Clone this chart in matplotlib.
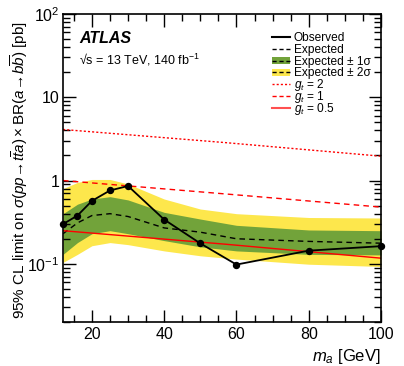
import numpy as np
import matplotlib
matplotlib.use("Agg")
from matplotlib import pyplot as plt
from matplotlib.patches import Rectangle
from matplotlib.lines import Line2D
from matplotlib.ticker import LogLocator, FixedLocator, MultipleLocator, NullFormatter

plt.rcParams['font.family'] = ['Liberation Sans', 'DejaVu Sans']
plt.rcParams['mathtext.fontset'] = 'custom'
plt.rcParams['mathtext.rm'] = 'Liberation Sans'
plt.rcParams['mathtext.it'] = 'Liberation Sans:italic'
plt.rcParams['mathtext.bf'] = 'Liberation Sans:bold'

# mass points [GeV]
mass = [12, 16, 20, 25, 30, 40, 50, 60, 80, 100]
observed = [0.30, 0.38, 0.57, 0.76, 0.86, 0.34, 0.176, 0.098, 0.144, 0.163]
expected = [0.23, 0.31, 0.38, 0.40, 0.37, 0.27, 0.24, 0.20, 0.186, 0.177]
exp_p1 = [0.40, 0.52, 0.60, 0.64, 0.585, 0.415, 0.345, 0.29, 0.255, 0.25]
exp_m1 = [0.13, 0.18, 0.23, 0.25, 0.23, 0.19, 0.16, 0.143, 0.13, 0.128]
exp_p2 = [0.80, 0.95, 1.03, 1.03, 0.91, 0.60, 0.455, 0.40, 0.36, 0.355]
exp_m2 = [0.104, 0.13, 0.165, 0.18, 0.17, 0.143, 0.125, 0.114, 0.099, 0.093]

# theory cross sections
theo_mass = [12, 57, 100]
theo_gt2 = [4.1, 2.85, 1.96]
theo_gt1 = [1.0, 0.69, 0.48]
theo_gt05 = [0.25, 0.172, 0.117]

leg_labels = ['Observed', 'Expected', 'Expected ± 1σ', 'Expected ± 2σ',
              '$g_t$ = 2', '$g_t$ = 1', '$g_t$ = 0.5']

fig = plt.figure(figsize=(4.04, 3.66), dpi=100)
ax = fig.add_axes([0.156, 0.120, 0.787, 0.842])

green = '#72a33a'
yellow = '#fde74c'
dash = (0, (3, 2))
ax.fill_between(mass, exp_m2, exp_p2, color=yellow, lw=0)
ax.fill_between(mass, exp_m1, exp_p1, color=green, lw=0)
ax.plot(mass, expected, color='black', ls=(0, (4, 3)), lw=1.0)
ax.plot(theo_mass, theo_gt2, color='red', ls=(0, (1.5, 1.5)), lw=1.0)
ax.plot(theo_mass, theo_gt1, color='red', ls=(0, (4, 3)), lw=1.0)
ax.plot(theo_mass, theo_gt05, color='red', ls='-', lw=1.0)
ax.plot(mass, observed, color='black', lw=1.3, marker='o', ms=4.3, clip_on=False, zorder=5)

ax.set_yscale('log')
ax.set_xlim(12, 100)
ax.set_ylim(0.02, 100)
ax.xaxis.set_major_locator(FixedLocator([20, 40, 60, 80, 100]))
ax.xaxis.set_minor_locator(MultipleLocator(5))
ax.yaxis.set_minor_locator(LogLocator(base=10, subs=np.arange(2, 10)))
ax.yaxis.set_minor_formatter(NullFormatter())
ax.set_yticks([0.1, 1, 10, 100])
ax.set_yticklabels(['$10^{-1}$', '1', '10', '$10^{2}$'])
ax.tick_params(which='both', direction='in', top=True, right=True, labelsize=11.5)
ax.tick_params(which='major', length=9, width=1)
ax.tick_params(which='minor', length=5, width=1)
ax.tick_params(axis='y', pad=2.5)
for s in ax.spines.values():
    s.set_linewidth(1.2)

ax.set_xlabel('$m_a$ [GeV]', fontsize=12, loc='right')
fig.text(0.048, 0.535,
         r'95% CL limit on $\sigma(pp\!\rightarrow\! t\overline{t}a)\times$BR($a\!\rightarrow\! b\overline{b}$) [pb]',
         rotation=90, fontsize=11, ha='center', va='center')

ax.text(0.05, 0.905, 'ATLAS', transform=ax.transAxes, fontsize=11.5,
        fontweight='bold', fontstyle='italic')
ax.text(0.05, 0.835, '√s = 13 TeV, 140 fb$^{-1}$', transform=ax.transAxes, fontsize=9)

# legend drawn by hand so every row gets the same spacing
styles = [
    dict(color='black', ls='-', lw=1.5, box=None),
    dict(color='black', ls=dash, lw=1.0, box=None),
    dict(color='black', ls=dash, lw=1.0, box=green),
    dict(color='black', ls=dash, lw=1.0, box=yellow),
    dict(color='red', ls=(0, (1.5, 1.5)), lw=1.0, box=None),
    dict(color='red', ls=dash, lw=1.0, box=None),
    dict(color='#ff5050', ls='-', lw=1.5, box=None),
]
x0, x1, xt = (272 - 63) / 318, (290 - 63) / 318, (294 - 63) / 318
for i, (lab, st) in enumerate(zip(leg_labels, styles)):
    yc = 1 - (37 + 11.8 * i - 14) / 308
    if st['box'] is not None:
        ax.add_patch(Rectangle((x0, yc - 3.5 / 308), x1 - x0, 7 / 308, transform=ax.transAxes,
                               color=st['box'], lw=0))
    ax.add_line(Line2D([x0, x1], [yc, yc], transform=ax.transAxes, color=st['color'],
                       ls=st['ls'], lw=st['lw']))
    ax.text(xt, yc - 4 / 308, lab, transform=ax.transAxes, fontsize=8.6, va='baseline')

fig.savefig('out.png', dpi=100)
